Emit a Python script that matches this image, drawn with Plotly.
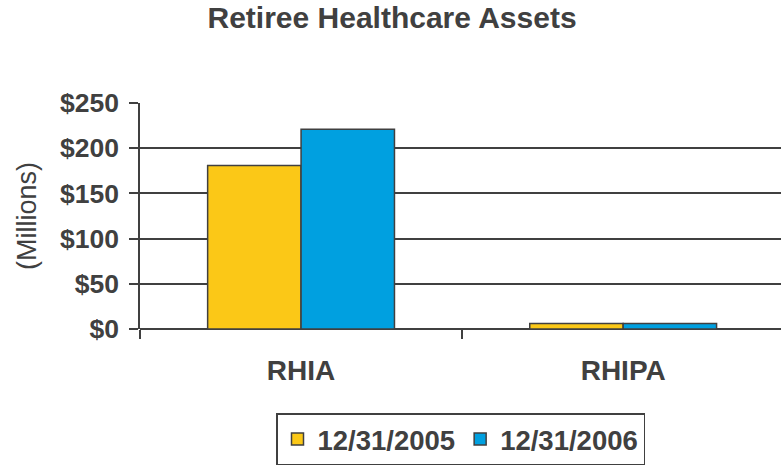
import plotly.graph_objects as go

categories = ["RHIA", "RHIPA"]
series_names = ["12/31/2005", "12/31/2006"]
values_2005 = [181, 6]
values_2006 = [221, 6]
y_tickvals = [0, 50, 100, 150, 200, 250]
y_ticktext = ["$0", "$50", "$100", "$150", "$200", "$250"]

FONT = "Liberation Sans, Arial, sans-serif"
TXT = "#404040"
LINE = "#404040"

fig = go.Figure()
fig.add_trace(go.Bar(x=categories, y=values_2005, name=series_names[0],
                     marker=dict(color="#FBC817", line=dict(color=LINE, width=1.5))))
fig.add_trace(go.Bar(x=categories, y=values_2006, name=series_names[1],
                     marker=dict(color="#00A0E0", line=dict(color=LINE, width=1.5))))

fig.update_layout(
    width=781, height=465,
    margin=dict(l=140, r=0, t=103, b=136, autoexpand=False),
    paper_bgcolor="white", plot_bgcolor="white",
    barmode="group", bargap=0.42, bargroupgap=0,
    title=dict(text="<b>Retiree Healthcare Assets</b>", x=0.502, xanchor="center",
               y=0.962, yanchor="middle", font=dict(family=FONT, size=30, color=TXT)),
    font=dict(family=FONT, color=TXT),
    showlegend=True,
    legend=dict(orientation="h", x=0.5, xanchor="center", y=-0.372, yanchor="top",
                bordercolor=LINE, borderwidth=1.5, bgcolor="white",
                font=dict(family=FONT, size=27.5, color=TXT, weight="bold"),
                itemwidth=30, tracegroupgap=0),
    xaxis=dict(range=[-0.5, 1.49], tickson="boundaries", ticks="outside", ticklen=9,
               tickcolor=LINE, tickwidth=1.5, showline=False, showgrid=False,
               tickfont=dict(family=FONT, size=28, color=TXT, weight="bold"),
               ticklabelstandoff=22),
    yaxis=dict(range=[0, 250], tickvals=y_tickvals, ticktext=y_ticktext,
               ticks="outside", ticklen=9, tickcolor=LINE, tickwidth=1.5,
               showline=True, linecolor=LINE, linewidth=1.5,
               showgrid=True, gridcolor=LINE, gridwidth=1.5,
               zeroline=True, zerolinecolor=LINE, zerolinewidth=1.5,
               tickfont=dict(family=FONT, size=26.5, color=TXT, weight="bold"),
               ticklabelstandoff=5,
               title=dict(text="(Millions)", font=dict(family=FONT, size=27, color=TXT),
                          standoff=16)),
)

fig.write_html("out.html",
               config={"displayModeBar": False},
               post_script="document.body.style.margin='0';document.body.style.overflow='hidden';")
